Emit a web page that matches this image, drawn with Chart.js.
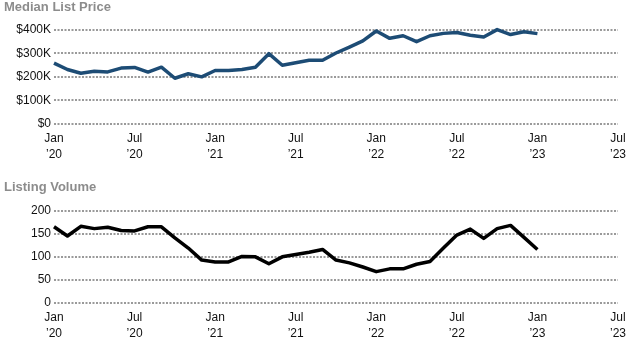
<!DOCTYPE html>
<html>
<head>
<meta charset="utf-8">
<script src="https://cdn.jsdelivr.net/npm/chart.js@4"></script>
<style>
  html, body { margin: 0; padding: 0; background: #fff; }
  .box { position: absolute; left: 0; width: 633px; height: 175px; }
  #priceBox { top: 0; }
  #volumeBox { top: 175px; }
</style>
</head>
<body>
<div class="box" id="priceBox"><canvas id="priceChart" width="633" height="175"></canvas></div>
<div class="box" id="volumeBox"><canvas id="volumeChart" width="633" height="175"></canvas></div>
<script>
// months on the x axis (Jan 2020 .. Jul 2023)
var months = [
    'Jan 2020', 'Feb 2020', 'Mar 2020', 'Apr 2020', 'May 2020', 'Jun 2020',
    'Jul 2020', 'Aug 2020', 'Sep 2020', 'Oct 2020', 'Nov 2020', 'Dec 2020',
    'Jan 2021', 'Feb 2021', 'Mar 2021', 'Apr 2021', 'May 2021', 'Jun 2021',
    'Jul 2021', 'Aug 2021', 'Sep 2021', 'Oct 2021', 'Nov 2021', 'Dec 2021',
    'Jan 2022', 'Feb 2022', 'Mar 2022', 'Apr 2022', 'May 2022', 'Jun 2022',
    'Jul 2022', 'Aug 2022', 'Sep 2022', 'Oct 2022', 'Nov 2022', 'Dec 2022',
    'Jan 2023', 'Feb 2023', 'Mar 2023', 'Apr 2023', 'May 2023', 'Jun 2023',
    'Jul 2023'
];

// median list price, $
var medianPrice = [
    258000, 231000, 215000, 224000, 221000, 237000, 240000, 220000, 241000, 194000,
    213000, 200000, 227000, 227000, 231000, 241000, 298000, 249000, 260000, 270000,
    270000, 301000, 326000, 352000, 394000, 363000, 374000, 349000, 374000, 384000,
    388000, 376000, 369000, 400000, 379000, 391000, 383000
];

// listing volume
var listingVolume = [
    165, 145, 166, 161, 164, 157, 156, 165, 165, 141,
    119, 93, 89, 89, 101, 100, 85, 100, 105, 110,
    116, 93, 87, 78, 68, 74, 74, 84, 90, 119,
    147, 160, 140, 161, 168, 142, 116
];

var priceTicks = [0, 100000, 200000, 300000, 400000];
var volumeTicks = [0, 50, 100, 150, 200];

Chart.defaults.font.family = "'Liberation Sans', Arial, sans-serif";
Chart.defaults.font.size = 12;
Chart.defaults.color = '#111';

function xTickLabel(index) {
    var parts = months[index].split(' ');
    if (parts[0] === 'Jan' || parts[0] === 'Jul') {
        return [parts[0], '\u2019' + parts[1].slice(2)];
    }
    return '';
}

function makeChart(canvasId, title, values, color, yMax, yStep, yFormat, pad) {
    var ctx = document.getElementById(canvasId);
    return new Chart(ctx, {
        type: 'line',
        data: {
            labels: months,
            datasets: [{
                data: values,
                borderColor: color,
                backgroundColor: color,
                borderWidth: 3.5,
                borderJoinStyle: 'round',
                pointRadius: 0,
                tension: 0,
                fill: false,
                clip: false
            }]
        },
        options: {
            responsive: false,
            animation: false,
            layout: {
                padding: { top: pad.top, bottom: pad.bottom, left: 4, right: 15 }
            },
            plugins: {
                legend: { display: false },
                tooltip: { enabled: false },
                title: {
                    display: true,
                    text: title,
                    align: 'start',
                    color: '#8c8c8c',
                    font: { size: 13, weight: 'bold' },
                    padding: { top: 0, bottom: pad.title }
                }
            },
            scales: {
                x: {
                    type: 'category',
                    offset: false,
                    grid: { display: false, drawTicks: false },
                    border: { display: false },
                    ticks: {
                        autoSkip: false,
                        maxRotation: 0,
                        minRotation: 0,
                        padding: 7,
                        font: { size: 12, lineHeight: 1.33 },
                        callback: function (value, index) { return xTickLabel(index); }
                    }
                },
                y: {
                    min: 0,
                    max: yMax,
                    grid: { color: '#9a9a9a', lineWidth: 2, drawTicks: false },
                    border: { display: false, dash: [2, 1.5] },
                    afterFit: function (scale) { scale.width = 50; },
                    ticks: {
                        stepSize: yStep,
                        padding: 3,
                        callback: yFormat
                    }
                }
            }
        }
    });
}

makeChart('priceChart', 'Median List Price', medianPrice, '#1d4c75',
    priceTicks[priceTicks.length - 1], priceTicks[1],
    function (v) { return v === 0 ? '$0' : '$' + (v / 1000) + 'K'; },
    { top: 0, bottom: 5, title: 14 });

makeChart('volumeChart', 'Listing Volume', listingVolume, '#000000',
    volumeTicks[volumeTicks.length - 1], volumeTicks[1],
    function (v) { return v; },
    { top: 5, bottom: 1, title: 15 });
</script>
</body>
</html>
